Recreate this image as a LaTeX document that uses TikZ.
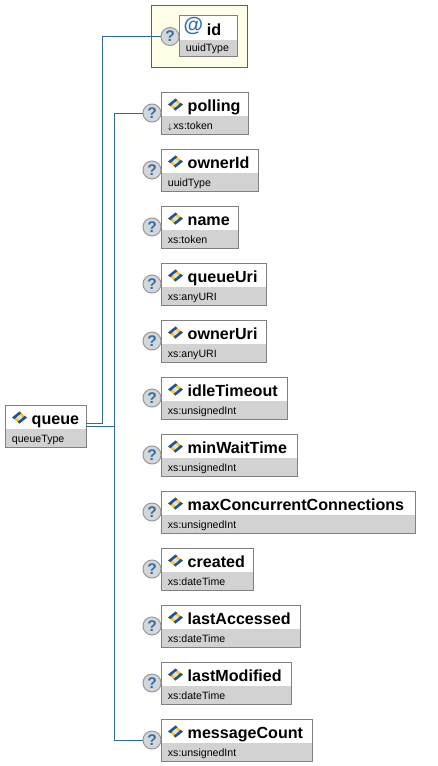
\documentclass[tikz,border=0pt]{standalone}
\usepackage{fontspec}
\setmainfont{Liberation Sans}
\definecolor{linkblue}{HTML}{2F6B9E}
\definecolor{boxedge}{HTML}{808080}
\definecolor{typegray}{HTML}{D2D2D2}
\definecolor{attrfill}{HTML}{FFFFE8}
\definecolor{helpfill}{HTML}{D4D6D8}
\definecolor{helpedge}{HTML}{989898}
\definecolor{helpblue}{HTML}{2F6FA8}
\definecolor{gemblue}{HTML}{1F4FA0}
\definecolor{gemyellow}{HTML}{FFC820}
\definecolor{gemcore}{HTML}{D8E4F4}
\tikzset{
  elembox/.style={fill=white,inner sep=0pt,outer sep=0pt,anchor=north west},
  typeband/.style={fill=typegray},
  titletext/.style={inner sep=0pt,anchor=base west,font=\fontsize{16.1}{17}\selectfont\bfseries},
  typetext/.style={inner sep=0pt,anchor=base west,font=\fontsize{10.6}{11}\selectfont,text=black},
  helpbtn/.style={circle,draw=helpedge,line width=1pt,fill=helpfill,minimum size=18pt,inner sep=0pt,
    font=\fontsize{15.5}{15.5}\selectfont\bfseries,text=helpblue},
  link/.style={draw=linkblue,line width=1pt},
  attrframe/.style={draw=linkblue,line width=1pt,fill=attrfill,inner sep=0pt,outer sep=0pt,anchor=north west},
}
\newcommand{\gem}[2]{%
  \begin{scope}[shift={(#1,#2)}]
    \fill[gemyellow] (-7.5,0) -- (0,-6) -- (7.5,0) -- (0,6) -- cycle;
    \fill[gemblue] (-7.5,0) -- (0,-6) -- (2,-4.4) -- (-5,1.6) -- cycle;
    \fill[gemblue] (7.5,0) -- (0,6) -- (-2,4.4) -- (5,-1.6) -- cycle;
    \fill[gemcore] (0,-2.6) -- (3,0) -- (0,2.6) -- (-3,0) -- cycle;
  \end{scope}}
% \elem{id}{x}{y}{width}{title}{type}
\newcommand{\elem}[6]{%
  \node[elembox,minimum width=#4pt-1.5pt,minimum height=41.4pt] (#1) at (#2+0.8,#3+0.7) {};
  \fill[typeband] (#2+0.8,#3+24) rectangle (#2+#4-0.7,#3+42);
  \draw[boxedge,line width=1pt] (#2+0.8,#3+0.7) rectangle (#2+#4-0.7,#3+42.1);
  \gem{#2+14.5}{#3+12.5}
  \node[titletext] (#1-title) at (#2+26.5,#3+19) {#5};
  \node[typetext] (#1-type) at (#2+6.7,#3+37) {#6};
}
\begin{document}
\begin{tikzpicture}[x=1pt,y=-1pt]
\useasboundingbox (0,0) rectangle (438,766);
\fill[white] (0,0) rectangle (438,766);
% attribute
\node[attrframe,minimum width=95.5pt,minimum height=62pt] (idframe) at (151.8,5.3) {};
\node[elembox,minimum width=57.5pt,minimum height=41.4pt] (idbox) at (179.8,15.5) {};
\fill[typeband] (179.8,40) rectangle (237.3,56.9);
\draw[boxedge,line width=1pt] (179.8,15.5) rectangle (237.3,56.9);
\node[inner sep=0pt,font=\fontsize{20}{20}\selectfont\bfseries,text=helpblue] (idat) at (193.3,26) {@};
\node[titletext] (idtitle) at (206.7,35) {id};
\node[typetext] (idtype) at (185.7,51.7) {uuidType};
\node[helpbtn] (h-id) at (170,36.5) {?};
% root
\elem{queue}{5}{405}{81.9}{queue}{queueType}
% children
\elem{polling}{161}{92}{88}{polling}{\makebox[5.5pt][l]{\fontsize{8}{8}\selectfont$\downarrow$}xs:token}
\elem{ownerId}{161}{149}{98}{ownerId}{uuidType}
\elem{name}{161}{206}{78}{name}{xs:token}
\elem{queueUri}{161}{263}{106}{queueUri}{xs:anyURI}
\elem{ownerUri}{161}{320}{106}{ownerUri}{xs:anyURI}
\elem{idleTimeout}{161}{377}{127}{idleTimeout}{xs:unsignedInt}
\elem{minWaitTime}{161}{434}{137}{minWaitTime}{xs:unsignedInt}
\elem{maxConn}{161}{491}{255}{maxConcurrentConnections}{xs:unsignedInt}
\elem{created}{161}{548}{93}{created}{xs:dateTime}
\elem{lastAccessed}{161}{605}{140}{lastAccessed}{xs:dateTime}
\elem{lastModified}{161}{662}{131}{lastModified}{xs:dateTime}
\elem{messageCount}{161}{719}{152}{messageCount}{xs:unsignedInt}
% help buttons
\foreach \n/\yy in {polling/113,ownerId/170,name/227,queueUri/284,ownerUri/341,idleTimeout/398,minWaitTime/455,maxConn/512,created/569,lastAccessed/626,lastModified/683,messageCount/740}
  \node[helpbtn] (h-\n) at (152,\yy) {?};
% connectors
\coordinate (q1) at (queue.east |- 0,423.7);
\coordinate (q2) at (queue.east |- 0,426.3);
\coordinate (j1) at (102.3,423.7);
\coordinate (j2) at (114.3,426.3);
\draw[link] (q1) -- (j1) |- (h-id.west);
\draw[link] (q2) -- (j2);
\draw[link] (h-polling.west) -| (j2) |- (h-messageCount.west);
\end{tikzpicture}
\end{document}
